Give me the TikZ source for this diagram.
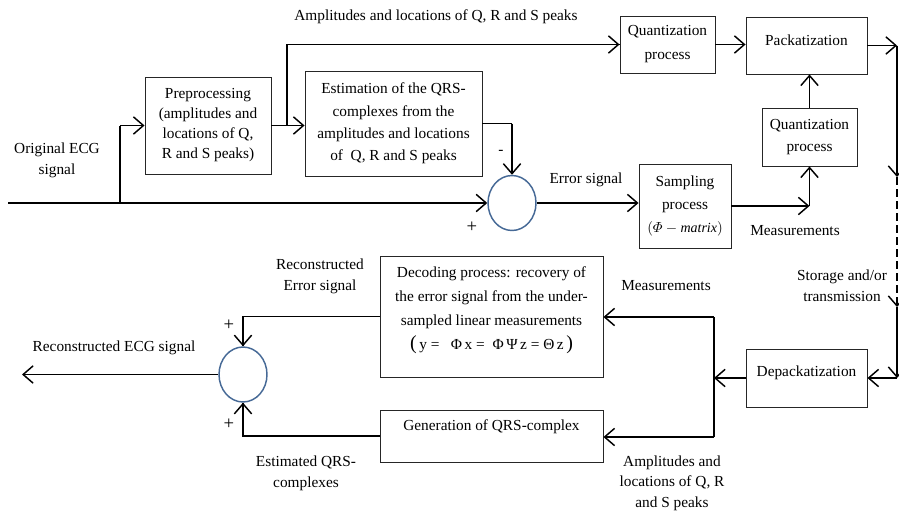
\documentclass[tikz,border=0pt]{standalone}
\usepackage{amsmath}
\usepackage{fontspec}
\setmainfont{Liberation Serif}
\usetikzlibrary{arrows.meta,shapes.geometric}
\definecolor{circblue}{RGB}{70,105,150}
\begin{document}
\begin{tikzpicture}[x=0.75pt,y=-0.75pt,
  font=\fontsize{11.5}{16}\selectfont,
  box/.style={draw=black!85,line width=0.7pt,align=center,inner sep=1pt},
  sz/.style 2 args={minimum width=#1*0.75pt,minimum height=#2*0.75pt},
  sumc/.style={draw=circblue,line width=1.1pt,ellipse,inner sep=0pt},
  ln/.style={line width=1.1pt,black},
  arr/.style={ln,-{Straight Barb[length=7.5pt,width=13pt,line width=1.1pt]}},
  lbl/.style={align=center,inner sep=0pt},
  pm/.style={inner sep=0pt,font=\fontsize{14}{14}\selectfont}]
\useasboundingbox (0,0) rectangle (899,514);
\clip (0,0) rectangle (899,514);

% boxes
\node[box,sz={126}{97},font=\fontsize{11.5}{15}\selectfont] (pre) at (208,125.5)
  {Preprocessing\\(amplitudes and\\locations of Q,\\R and S peaks)};
\node[box,sz={177}{105},font=\fontsize{11.5}{16.7}\selectfont] (est) at (393.5,123.5)
  {Estimation of the QRS-\\complexes from the\\amplitudes and locations\\of\ \ Q, R and S peaks};
\node[box,sz={95}{57},font=\fontsize{11.5}{18}\selectfont] (q1) at (667.5,44.5)
  {Quantization\\process};
\node[box,sz={121}{57},text depth=8.5pt] (pack) at (806.5,45.5) {Packatization};
\node[box,sz={95}{58},font=\fontsize{11.5}{17}\selectfont] (q2) at (809.5,137)
  {Quantization\\process};
\node[box,sz={92}{84},font=\fontsize{11.5}{17}\selectfont] (samp) at (685,206)
  {Sampling\\process\\{\fontsize{10.5}{11}\selectfont$(\varPhi-\mathit{matrix})$}};
\node[box,sz={223}{121},font=\fontsize{11.5}{18}\selectfont,text depth=12pt] (dec) at (491.5,316.5)
  {Decoding process: recovery of\\the error signal from the under-\\sampled linear measurements\\{\fontsize{15}{15}\selectfont(}\,y = \ \ Φ\,x = \ Φ\,Ψ\,z = Θ\,z\,{\fontsize{15}{15}\selectfont)}};
\node[box,sz={223}{52},text depth=16pt] (gen) at (491.5,436) {Generation of QRS-complex};
\node[box,sz={121}{58},text depth=10pt] (depack) at (806.5,378) {Depackatization};

% summing junctions
\node[sumc,minimum width=48*0.75pt,minimum height=55*0.75pt] (sum1) at (512,203) {};
\node[sumc,minimum width=48*0.75pt,minimum height=55*0.75pt] (sum2) at (243,374.5) {};

% coordinates
\coordinate (inL) at (8,203);
\coordinate (br1) at (120,203);
\coordinate (br2) at (287,125.5);
\coordinate (c1) at (809.5,206);
\coordinate (r1) at (897,45.5);
\coordinate (r2) at (897,177);
\coordinate (r3) at (897,307);
\coordinate (r4) at (897,378);
\coordinate (c2) at (714,378);
\coordinate (c3) at (714,317);
\coordinate (c4) at (714,437);
\coordinate (outL) at (22,374.5);

% connectors (upper half)
\draw[arr] (inL) -- (sum1.west);
\draw[ln] (br1) -- (br1 |- pre.west);
\draw[arr] (br1 |- pre.west) -- (pre.west);
\draw[arr] (pre.east) -- (pre.east -| est.west);
\draw[ln] (br2) |- (q1.west);
\draw[arr] (br2 |- q1.west) -- (q1.west);
\draw[ln] (est.east) -- (est.east -| sum1.north);
\draw[arr] (est.east -| sum1.north) -- (sum1.north);
\draw[arr] (sum1.east) -- (sum1.east -| samp.west);
\draw[arr] (samp.east) -- (c1);
\draw[arr] (c1) -- (q2.south);
\draw[arr] (q2.north) -- (q2.north |- pack.south);
\draw[arr] (q1.east) -- (q1.east -| pack.west);
\draw[arr] (pack.east) -- (r1);
\draw[arr] (r1) -- (r2);
\draw[arr,dashed,dash pattern=on 6pt off 3pt] (r2) -- (r3);
\draw[arr] (r3) -- (r4);
\draw[arr] (r4) -- (depack.east);

% connectors (lower half)
\draw[arr] (depack.west) -- (c2);
\draw[ln] (c3) -- (c4);
\draw[arr] (c3) -- (c3 -| dec.east);
\draw[arr] (c4) -- (c4 -| gen.east);
\draw[ln] (dec.west) -| (sum2.north);
\draw[arr] (dec.west -| sum2.north) -- (sum2.north);
\draw[ln] (gen.west) -| (sum2.south);
\draw[arr] (gen.west -| sum2.south) -- (sum2.south);
\draw[arr] (sum2.west) -- (outL);

% labels
\node[lbl] (l1) at (436,17) {Amplitudes and locations of Q, R and S peaks};
\node[lbl] (l2) at (57,160) {Original ECG\\signal};
\node[lbl] (l3) at (501,152) {-};
\node[pm] (l4) at (472,227) {+};
\node[lbl] (l5) at (586,180) {Error signal};
\node[lbl] (l6) at (795,231) {Measurements};
\node[lbl,font=\fontsize{11.5}{15.5}\selectfont] (l7) at (842,286) {Storage and/or\\transmission};
\node[lbl] (l8) at (666,286) {Measurements};
\node[lbl,font=\fontsize{11.5}{15.5}\selectfont] (l9) at (672,483) {Amplitudes and\\locations of Q, R\\and S peaks};
\node[lbl] (l10) at (320,276) {Reconstructed\\Error signal};
\node[pm] (l11) at (229,325) {+};
\node[pm] (l12) at (229,424) {+};
\node[lbl] (l13) at (114,348) {Reconstructed ECG signal};
\node[lbl] (l14) at (306,473) {Estimated QRS-\\complexes};
\end{tikzpicture}
\end{document}
